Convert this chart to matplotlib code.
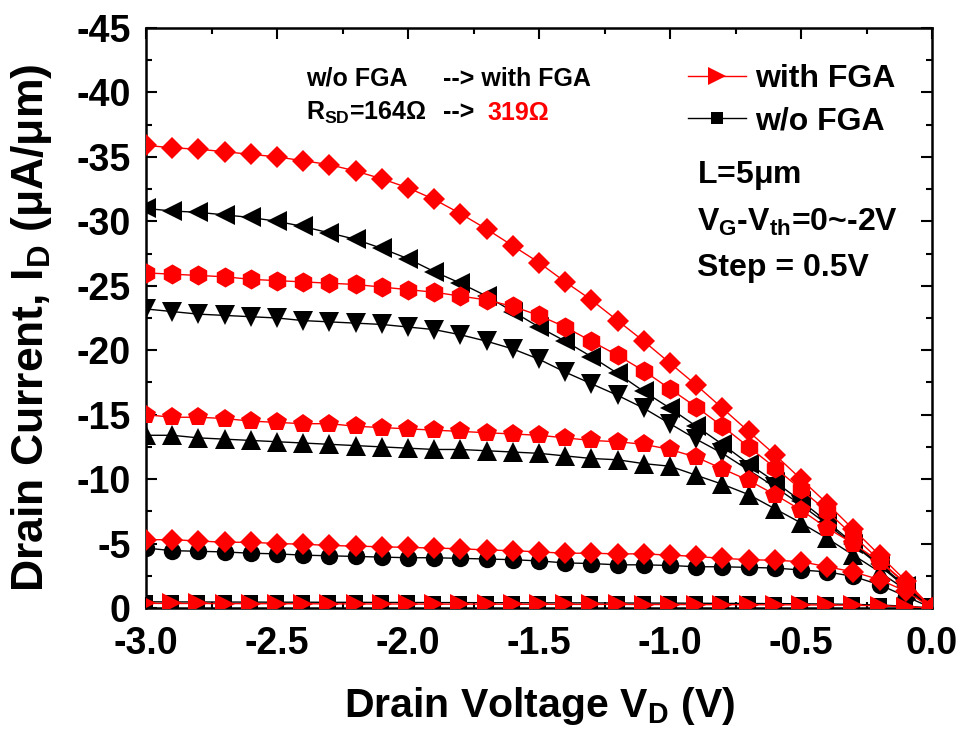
import matplotlib
matplotlib.use("Agg")
import matplotlib.pyplot as plt
from matplotlib.ticker import MultipleLocator, FormatStrFormatter

plt.rcParams['font.family'] = ['Liberation Sans', 'DejaVu Sans']
plt.rcParams['font.weight'] = 'bold'
plt.rcParams['axes.unicode_minus'] = False
plt.rcParams['mathtext.fontset'] = 'custom'
plt.rcParams['mathtext.rm'] = 'Liberation Sans:bold'
plt.rcParams['mathtext.it'] = 'Liberation Sans:bold'
plt.rcParams['mathtext.bf'] = 'Liberation Sans:bold'

# ---------- data (drain voltage in V, drain current in uA/um) ----------
vd = [-3.0, -2.9, -2.8, -2.7, -2.6, -2.5, -2.4, -2.3, -2.2, -2.1, -2.0,
      -1.9, -1.8, -1.7, -1.6, -1.5, -1.4, -1.3, -1.2, -1.1, -1.0,
      -0.9, -0.8, -0.7, -0.6, -0.5, -0.4, -0.3, -0.2, -0.1, 0.0]

# with FGA, Vg-Vth = -2, -1.5, -1, -0.5, 0
fga_2p0 = [-35.9, -35.7, -35.6, -35.4, -35.2, -35.0, -34.7, -34.4, -33.9, -33.3, -32.6,
           -31.7, -30.6, -29.4, -28.1, -26.8, -25.3, -23.9, -22.3, -20.7, -19.0,
           -17.3, -15.5, -13.7, -11.9, -10.0, -8.1, -6.1, -4.1, -2.1, 0.0]
fga_1p5 = [-26.0, -25.9, -25.8, -25.7, -25.5, -25.4, -25.3, -25.2, -25.1, -24.9, -24.7,
           -24.5, -24.2, -23.9, -23.4, -22.7, -21.8, -20.7, -19.6, -18.4, -17.0,
           -15.6, -14.1, -12.5, -10.9, -9.2, -7.5, -5.6, -3.7, -1.9, 0.0]
fga_1p0 = [-15.0, -14.8, -14.8, -14.7, -14.5, -14.4, -14.3, -14.3, -14.1, -14.0, -13.9,
           -13.8, -13.7, -13.6, -13.5, -13.4, -13.2, -13.0, -12.9, -12.7, -12.3,
           -11.7, -10.8, -9.9, -8.8, -7.6, -6.2, -5.0, -3.6, -1.9, 0.0]
fga_0p5 = [-5.3, -5.3, -5.2, -5.1, -5.1, -5.0, -4.95, -4.85, -4.8, -4.75, -4.7,
           -4.65, -4.6, -4.5, -4.45, -4.35, -4.25, -4.25, -4.2, -4.2, -4.1,
           -4.0, -3.85, -3.75, -3.7, -3.6, -3.2, -2.8, -2.2, -1.3, 0.0]
fga_0p0 = [-0.36, -0.35, -0.35, -0.34, -0.34, -0.33, -0.33, -0.32, -0.32, -0.31, -0.31,
           -0.30, -0.30, -0.30, -0.29, -0.29, -0.28, -0.28, -0.28, -0.27, -0.27,
           -0.26, -0.26, -0.25, -0.25, -0.24, -0.23, -0.21, -0.17, -0.10, 0.0]

# w/o FGA
nofga_2p0 = [-31.0, -30.8, -30.7, -30.5, -30.3, -30.0, -29.6, -29.1, -28.6, -27.9, -27.1,
             -26.1, -25.2, -24.2, -23.0, -21.8, -20.7, -19.5, -18.2, -16.8, -15.5,
             -14.1, -12.7, -11.2, -9.8, -8.3, -6.7, -5.0, -3.4, -1.7, 0.0]
nofga_1p5 = [-23.2, -23.0, -22.8, -22.7, -22.6, -22.5, -22.3, -22.2, -22.1, -22.0, -21.8,
             -21.6, -21.2, -20.7, -20.1, -19.3, -18.3, -17.4, -16.5, -15.5, -14.3,
             -13.1, -12.0, -10.7, -9.4, -8.0, -6.5, -4.9, -3.3, -1.6, 0.0]
nofga_1p0 = [-13.4, -13.4, -13.2, -13.1, -13.0, -12.9, -12.8, -12.7, -12.6, -12.5, -12.4,
             -12.3, -12.3, -12.2, -12.1, -12.0, -11.8, -11.6, -11.5, -11.2, -11.0,
             -10.3, -9.6, -8.8, -7.7, -6.6, -5.4, -4.1, -2.8, -1.4, 0.0]
nofga_0p5 = [-4.65, -4.45, -4.4, -4.35, -4.25, -4.2, -4.1, -4.05, -4.0, -3.95, -3.9,
             -3.9, -3.85, -3.8, -3.75, -3.65, -3.5, -3.45, -3.35, -3.35, -3.3,
             -3.2, -3.2, -3.15, -3.1, -2.95, -2.8, -2.45, -1.8, -0.9, 0.0]
nofga_0p0 = [-0.48, -0.47, -0.47, -0.46, -0.46, -0.45, -0.45, -0.44, -0.44, -0.43, -0.43,
             -0.42, -0.42, -0.41, -0.41, -0.40, -0.40, -0.39, -0.39, -0.38, -0.38,
             -0.37, -0.36, -0.35, -0.34, -0.33, -0.31, -0.28, -0.23, -0.14, 0.0]

W, H = 964, 737
fig = plt.figure(figsize=(W / 100, H / 100), dpi=100)
ax = fig.add_axes([146 / W, 1 - 608 / H, (932 - 146) / W, (608 - 28) / H])

# ---------- curves: black first, red on top ----------
black = [(nofga_2p0, '<', 14.5), (nofga_1p5, 'v', 14.5), (nofga_1p0, '^', 14.5),
         (nofga_0p5, 'o', 12.5), (nofga_0p0, 's', 10)]
red = [(fga_2p0, 'D', 11), (fga_1p5, 'h', 14.5), (fga_1p0, 'p', 15),
       (fga_0p5, 'D', 11), (fga_0p0, '>', 14.5)]

handles = {}
for ys, mk, ms in black:
    ln, = ax.plot(vd, ys, color='black', lw=1.0, marker=mk, ms=ms,
                  markeredgewidth=0, zorder=2)
    handles['black_' + mk] = ln
for ys, mk, ms in red:
    ln, = ax.plot(vd, ys, color='red', lw=1.0, marker=mk, ms=ms,
                  markeredgewidth=0, zorder=3)
    handles['red_' + mk] = ln

ax.set_xlim(-3.0, 0.0)
ax.set_ylim(0, -45)
ax.xaxis.set_major_locator(MultipleLocator(0.5))
ax.xaxis.set_minor_locator(MultipleLocator(0.25))
ax.yaxis.set_major_locator(MultipleLocator(5))
ax.yaxis.set_minor_locator(MultipleLocator(2.5))
ax.xaxis.set_major_formatter(FormatStrFormatter('%.1f'))
ax.yaxis.set_major_formatter(FormatStrFormatter('%d'))
ax.tick_params(which='both', direction='in', top=True, right=True, width=1.5)
ax.tick_params(which='major', length=8, labelsize=27)
ax.tick_params(axis='x', which='major', pad=13)
ax.tick_params(axis='y', which='major', pad=11)
ax.tick_params(which='minor', length=4.5)
for lab in ax.get_xticklabels() + ax.get_yticklabels():
    lab.set_fontweight('bold')
for sp in ax.spines.values():
    sp.set_linewidth(1.8)

# ---------- labels ----------
fig.text(32 / W, 1 - 328 / H, r'Drain Current, I$_{D}$ ($\mu$A/$\mu$m)',
         rotation=90, ha='center', va='center', fontsize=32, fontweight='bold')
fig.text(540 / W, 1 - 706 / H, r'Drain Voltage V$_{D}$ (V)',
         ha='center', va='center', fontsize=29.5, fontweight='bold')

# ---------- annotations ----------
fs_small = 18
fig.text(306 / W, 1 - 79 / H, 'w/o FGA', ha='left', va='center', fontsize=fs_small)
fig.text(443 / W, 1 - 79 / H, '--> with FGA', ha='left', va='center', fontsize=fs_small)
fig.text(306 / W, 1 - 113 / H, r'R$_{SD}$=164Ω', ha='left', va='center', fontsize=fs_small)
fig.text(443 / W, 1 - 113 / H, '-->', ha='left', va='center', fontsize=fs_small)
fig.text(487 / W, 1 - 113 / H, '319Ω', ha='left', va='center', fontsize=fs_small,
         color='red')

fs_info = 23
fig.text(697 / W, 1 - 176 / H, r'L=5$\mu$m', ha='left', va='center', fontsize=fs_info)
fig.text(697 / W, 1 - 222 / H, r'V$_{G}$-V$_{th}$=0~-2V', ha='left', va='center',
         fontsize=fs_info)
fig.text(697 / W, 1 - 268 / H, 'Step = 0.5V', ha='left', va='center', fontsize=fs_info)

leg = ax.legend([handles['red_>'], handles['black_s']], ['with FGA', 'w/o FGA'],
                loc='upper left', bbox_to_anchor=((688 - 146) / 786, (608 - 64) / 580),
                frameon=False, fontsize=23, handlelength=1.8, handletextpad=0.3,
                labelspacing=0.38, borderpad=0, borderaxespad=0, markerscale=0.85)
for t in leg.get_texts():
    t.set_fontweight('bold')

fig.savefig('out.png', dpi=100)
